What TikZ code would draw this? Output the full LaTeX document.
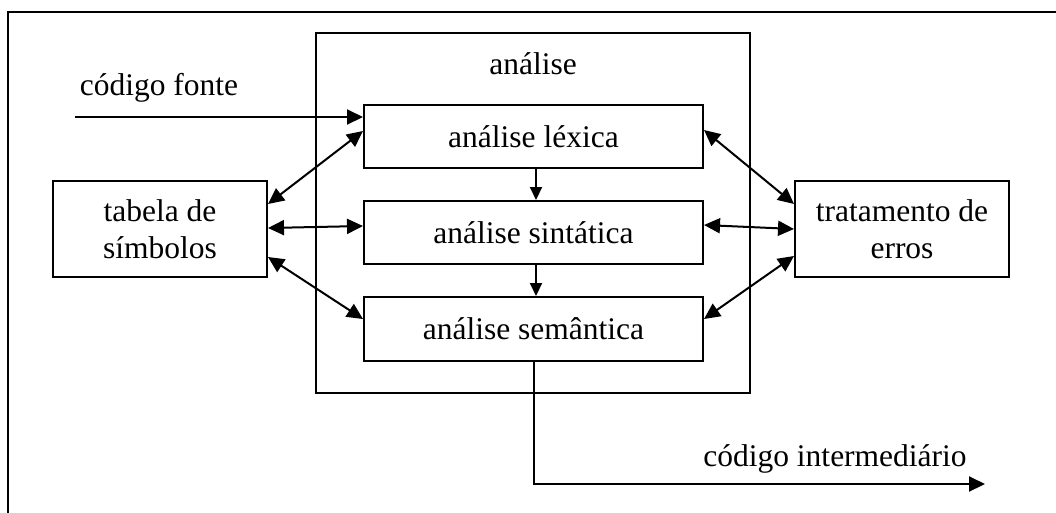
\documentclass[tikz,border=0pt]{standalone}
\usepackage{fontspec}
\setmainfont{Liberation Serif}
\usetikzlibrary{arrows.meta,calc}
\begin{document}
\begin{tikzpicture}[x=1pt,y=-1pt,
  line width=2pt,
  txt/.style={font=\fontsize{31.5}{37}\selectfont},
  box/.style={draw, rectangle, inner sep=0pt, txt, align=center},
  tip/.style={-{Triangle[length=16pt,width=15pt]}},
  both/.style={{Triangle[length=16pt,width=15pt]}-{Triangle[length=16pt,width=15pt]}},
  down/.style={-{Triangle[length=13pt,width=12pt]}}]
  \useasboundingbox (0,0) rectangle (1056,512);
  % outer frame (open to the right and below)
  \draw (8,514) -- (8,12) -- (1060,12);

  % analysis block
  \node[draw, rectangle, inner sep=0pt, minimum width=434pt, minimum height=360pt] (ana) at (533,213) {};
  \node[txt, anchor=base] (anat) at (533,74) {análise};
  \node[box, minimum width=339pt, minimum height=63pt] (lex) at (533.5,136.5) {análise léxica};
  \node[box, minimum width=339pt, minimum height=63pt] (sin) at (533.5,232.5) {análise sintática};
  \node[box, minimum width=339pt, minimum height=64pt] (sem) at (533.5,329) {análise semântica};

  % side blocks
  \node[box, minimum width=214pt, minimum height=96pt] (tab) at (160,229) {tabela de\\símbolos};
  \node[box, minimum width=214pt, minimum height=96pt] (trat) at (902,229) {tratamento de\\erros};

  % input
  \coordinate (cfin) at (75,117);
  \node[txt, anchor=base] (cft) at (159,95) {código fonte};
  \draw[tip] (cfin) -- ([yshift=19.5pt]lex.west);

  % pipeline
  \draw[down] ([xshift=2.5pt]lex.south) -- ([xshift=2.5pt]sin.north);
  \draw[down] ([xshift=2.5pt]sin.south) -- ([xshift=2.5pt]sem.north);

  % symbol table links
  \draw[both] ([yshift=5.5pt]lex.west) -- ([yshift=25pt]tab.east);
  \draw[both] ([yshift=6.5pt]sin.west) -- ([yshift=1pt]tab.east);
  \draw[both] ([yshift=10pt]sem.west) -- ([yshift=-28pt]tab.east);

  % error handling links
  \draw[both] ([yshift=6.5pt]lex.east) -- ([yshift=25pt]trat.west);
  \draw[both] ([yshift=7.5pt]sin.east) -- (trat.west);
  \draw[both] ([yshift=10pt]sem.east) -- ([yshift=-27pt]trat.west);

  % output
  \coordinate (outend) at (985,484);
  \node[txt, anchor=base] (cit) at (835,466) {código intermediário};
  \draw[tip] (sem.south) ++(0.5,0) |- (outend);
\end{tikzpicture}
\end{document}
